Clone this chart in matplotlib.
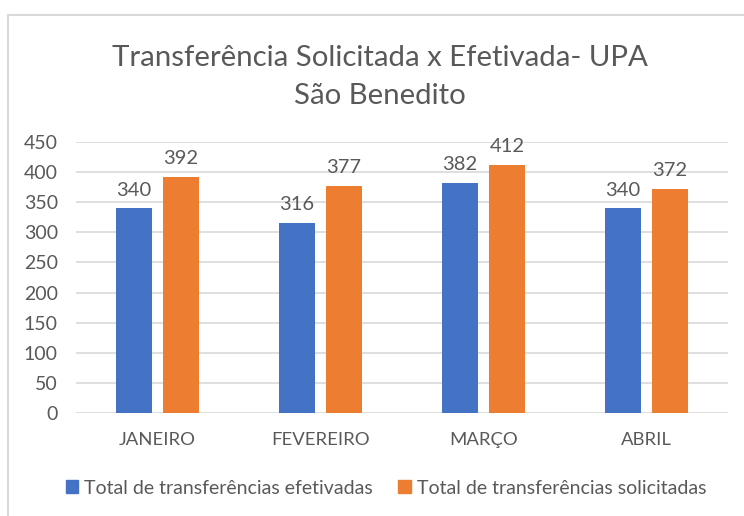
import matplotlib
matplotlib.use("Agg")
import matplotlib.pyplot as plt
from matplotlib.patches import Rectangle
from matplotlib.lines import Line2D
import numpy as np

categories = ["JANEIRO", "FEVEREIRO", "MARÇO", "ABRIL"]
efetivadas = [340, 316, 382, 340]
solicitadas = [392, 377, 412, 372]
series_names = ["Total de transferências efetivadas", "Total de transferências solicitadas"]
yticks = [0, 50, 100, 150, 200, 250, 300, 350, 400, 450]
title = "Transferência Solicitada x Efetivada- UPA\nSão Benedito"

plt.rcParams['font.family'] = ['Lato', 'DejaVu Sans']
TXT = "#595959"
BLUE = "#4472C4"
ORANGE = "#ED7D31"

W, H = 744, 516
fig = plt.figure(figsize=(W/100, H/100), dpi=100)

# chart border (left and top visible)
fig.add_artist(Line2D([8/W, 8/W], [0, 1-15/H], color="#D9D9D9", lw=1.5, transform=fig.transFigure))
fig.add_artist(Line2D([8/W, 1], [1-15/H, 1-15/H], color="#D9D9D9", lw=1.5, transform=fig.transFigure))

left, right = 76, 728
top, bottom = 142, 413
ax = fig.add_axes([left/W, 1-bottom/H, (right-left)/W, (bottom-top)/H])

x = np.arange(len(categories))
bw = 0.22
gap = 0.067
b1 = ax.bar(x - (bw+gap)/2, efetivadas, bw, color=BLUE, zorder=3)
b2 = ax.bar(x + (bw+gap)/2, solicitadas, bw, color=ORANGE, zorder=3)
for bars, vals in ((b1, efetivadas), (b2, solicitadas)):
    for r, v in zip(bars, vals):
        ax.annotate(str(v), (r.get_x()+r.get_width()/2, v), xytext=(0, 7),
                    textcoords="offset points", ha="center", va="bottom",
                    fontsize=14.5, color=TXT)

ax.set_xlim(-0.5, len(categories)-0.5)
ax.set_ylim(0, 450)
ax.set_yticks(yticks)
ax.set_yticklabels([str(t) for t in yticks], fontsize=14, color=TXT)
ax.set_xticks(x)
ax.set_xticklabels(categories, fontsize=13.3, color=TXT)
ax.tick_params(axis='both', length=0)
ax.tick_params(axis='y', pad=13)
ax.tick_params(axis='x', pad=14)
ax.grid(axis='y', color="#D9D9D9", lw=1.2, zorder=0)
for s in ax.spines.values():
    s.set_visible(False)
ax.set_facecolor("none")

fig.text(380/W, 1-77/H, title, ha="center", va="center", fontsize=21.2,
         color=TXT, linespacing=1.55)

handles = [Rectangle((0, 0), 1, 1, color=BLUE), Rectangle((0, 0), 1, 1, color=ORANGE)]
fig.legend(handles, series_names, loc="center", bbox_to_anchor=(386/W, 1-488/H),
           ncol=2, frameon=False, fontsize=14, labelcolor=TXT,
           handlelength=0.65, handleheight=0.65, handletextpad=0.3, columnspacing=1.3)

fig.savefig("out.png", dpi=100)
